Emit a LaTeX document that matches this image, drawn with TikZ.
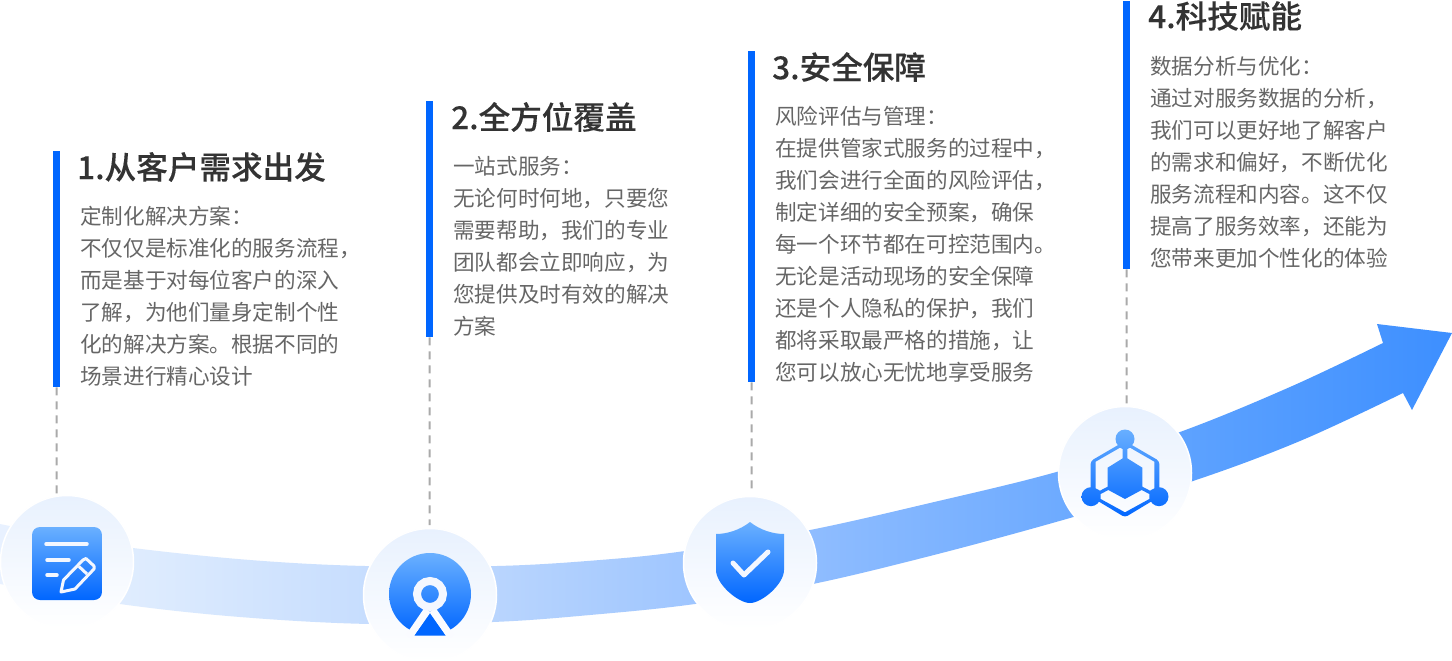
\documentclass[tikz,border=0pt]{standalone}
\usepackage{fontspec}
\setmainfont{Noto Sans CJK SC}
\newfontfamily\titlefont[FakeBold=0.15]{Noto Sans CJK SC Medium}
\definecolor{brand}{HTML}{0066FF}
\definecolor{iconTop}{HTML}{6AB0FF}
\definecolor{discTop}{HTML}{E8F1FE}
\definecolor{titleInk}{HTML}{333333}
\definecolor{bodyInk}{HTML}{666666}
\definecolor{dashInk}{HTML}{AAAAAA}
\definecolor{knock}{HTML}{F4F7FF}
\definecolor{knockLow}{HTML}{FAFBFF}
\definecolor{bandA}{HTML}{E8F1FF}
\definecolor{bandB}{HTML}{DDEBFE}
\definecolor{bandC}{HTML}{BBD6FE}
\definecolor{bandD}{HTML}{8EBCFF}
\definecolor{bandE}{HTML}{5FA3FF}
\definecolor{bandF}{HTML}{3D8FFF}
\pgfdeclarehorizontalshading{bandshade}{100bp}{color(0bp)=(bandA); color(25bp)=(bandA); color(30.2bp)=(bandB); color(41.5bp)=(bandC); color(53.2bp)=(bandD); color(65.3bp)=(bandE); color(75bp)=(bandF); color(100bp)=(bandF)}
\tikzset{
 barbox/.style={fill=brand,draw=none,inner sep=0pt,minimum width=7pt,anchor=north west},
 disc/.style={circle,inner sep=0pt,minimum size=133pt,top color=discTop,bottom color=white,draw=white,line width=1.5pt},
 titletext/.style={anchor=west,inner sep=0pt,text=titleInk,font=\titlefont\fontsize{31.6}{36}\selectfont},
 bodytext/.style={anchor=north west,inner sep=0pt,align=left,text=bodyInk,font=\fontsize{21.6}{32}\selectfont},
 guide/.style={draw=dashInk,line width=2pt,dash pattern=on 8pt off 6pt},
 iconfill/.style={top color=iconTop,bottom color=brand},
 iconmark/.style={draw=knock,line cap=round,line join=round,line width=3.5pt},
}
\begin{document}
\begin{tikzpicture}[x=1pt,y=-1pt]
\useasboundingbox (0,0) rectangle (1452,661);
\fill[white] (0,0) rectangle (1452,661);
% band
\path[shading=bandshade]
 plot[smooth,tension=.6] coordinates {(0,524)(67,537)(133,548)(250,560)(365,566)(497,566)(600,560)(685,551)(805,531)(930,503)(1060,471)(1180,432)(1290,387)(1383,343)}
 -- (1377,324) -- (1452,333) -- (1412,410) -- (1403,393)
 -- plot[smooth,tension=.6] coordinates {(1403,393)(1300,441)(1190,482)(1063,520)(930,556)(808,585)(695,604)(590,615)(493,622)(370,624)(240,617)(120,604)(0,584)}
 -- cycle;
% bars
\node[barbox,minimum height=236pt] (bar1) at (53,151) {};
\node[barbox,minimum height=236pt] (bar2) at (426,101) {};
\node[barbox,minimum height=331pt] (bar3) at (748,51) {};
\node[barbox,minimum height=268pt] (bar4) at (1123,1) {};
% discs
\node[disc] (disc1) at (67,562) {};
\node[disc] (disc2) at (430,595) {};
\node[disc] (disc3) at (750,563) {};
\node[disc] (disc4) at (1125,473) {};
% guides
\coordinate (end1) at (56.5,495);
\coordinate (end2) at (429.5,525);
\coordinate (end3) at (751.5,490);
\coordinate (end4) at (1126.5,406);
\draw[guide] (bar1.south) -- (end1);
\draw[guide] (bar2.south) -- (end2);
\draw[guide] (bar3.south) -- (end3);
\draw[guide] (bar4.south) -- (end4);
% titles
\node[titletext] (t1) at (77,167) {1.从客户需求出发};
\node[titletext] (t2) at (451,117) {2.全方位覆盖};
\node[titletext] (t3) at (772,67) {3.安全保障};
\node[titletext] (t4) at (1148,16) {4.科技赋能};
% bodies
\node[bodytext] (b1) at (80,206.5) {定制化解决方案：\\不仅仅是标准化的服务流程，\\而是基于对每位客户的深入\\了解，为他们量身定制个性\\化的解决方案。根据不同的\\场景进行精心设计};
\node[bodytext] (b2) at (453,156.5) {一站式服务：\\无论何时何地，只要您\\需要帮助，我们的专业\\团队都会立即响应，为\\您提供及时有效的解决\\方案};
\node[bodytext] (b3) at (775,106.5) {风险评估与管理：\\在提供管家式服务的过程中，\\我们会进行全面的风险评估，\\制定详细的安全预案，确保\\每一个环节都在可控范围内。\\无论是活动现场的安全保障\\还是个人隐私的保护，我们\\都将采取最严格的措施，让\\您可以放心无忧地享受服务};
\node[bodytext] (b4) at (1150,56.5) {数据分析与优化：\\通过对服务数据的分析，\\我们可以更好地了解客户\\的需求和偏好，不断优化\\服务流程和内容。这不仅\\提高了服务效率，还能为\\您带来更加个性化的体验};
% icon 1
\path[iconfill,rounded corners=8pt] (32,527) rectangle (102,600);
\draw[iconmark] (46,544) -- (87,544);
\draw[iconmark] (47,560) -- (69,560);
\draw[iconmark] (47,575) -- (57,575);
\draw[iconmark,line width=3pt] (61,592) -- (63.5,580) -- (83,560) -- (86,558.5) -- (94,566) -- (94,569) -- (75,589) -- cycle;
\draw[knock,line width=3pt] (79,566.5) -- (87,574);
% icon 2
\path[iconfill] (430,594) circle (41pt);
\draw[knockLow,line width=7.5pt] (427.5,610) -- (409,637);
\draw[knockLow,line width=7.5pt] (432.5,610) -- (451,637);
\draw[knock,line width=8pt] (430,594) circle (13pt);
\fill[brand] (430,614) -- (445.5,635.5) -- (414.5,635.5) -- cycle;
% icon 3
\path[iconfill] (750,522) .. controls (740,530) and (727,534) .. (716,534) -- (716,570)
 .. controls (716,584) and (738,603) .. (750,603) .. controls (762,603) and (784,584) .. (784,570)
 -- (784,534) .. controls (773,534) and (760,530) .. (750,522) -- cycle;
\draw[knock,line cap=round,line join=round,line width=5pt] (733,563) -- (744,575) -- (768,552);
% icon 4
\begin{scope}
\clip[shift={(1075,425)},x=.3333pt,y=-.3333pt] (150,48) [rounded corners=3pt] -- (253,108) -- (253,215) -- (150,277) -- (47,215) -- (47,108) [sharp corners] -- cycle
 (62,110) -- (62,190) -- (75,197) -- (98,185) -- (98,128) -- (143,100) -- (143,72) -- (135,68) -- cycle
 (238,110) -- (165,68) -- (157,72) -- (157,100) -- (202,128) -- (202,185) -- (225,197) -- (238,190) -- cycle
 (77,207) -- (77,222) -- (150,262) -- (223,222) -- (223,207) -- (200,195) -- (150,222) -- (100,195) -- cycle
 (150,42) ++(28.5,0) arc[start angle=0,end angle=360,radius=28.5]
 (48,215) ++(28.5,0) arc[start angle=0,end angle=360,radius=28.5]
 (252,215) ++(28.5,0) arc[start angle=0,end angle=360,radius=28.5];
\shade[iconfill] (1075,428) rectangle (1175,518);
\end{scope}
\end{tikzpicture}
\end{document}
